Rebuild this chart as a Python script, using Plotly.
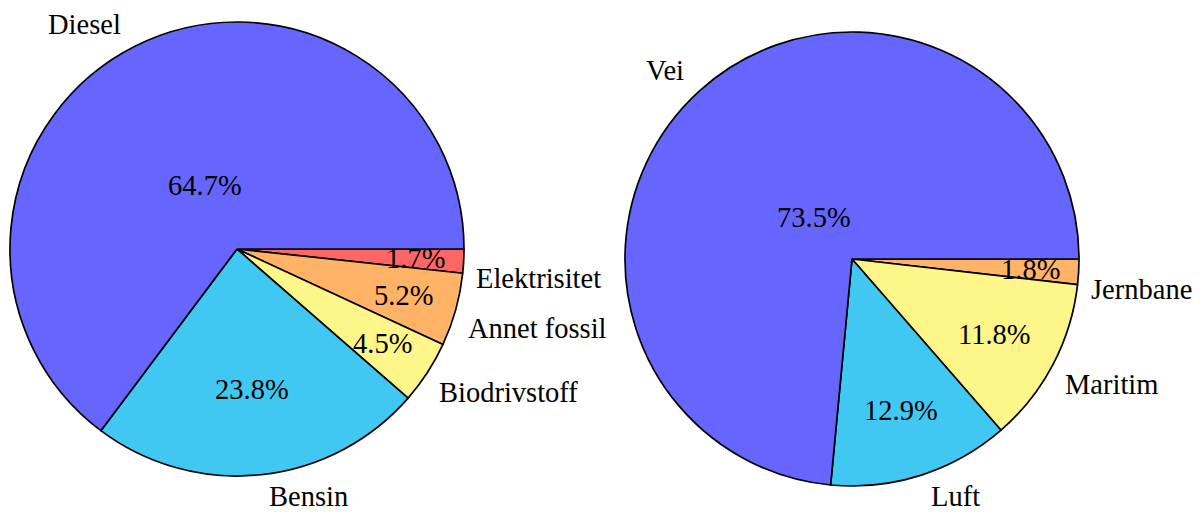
import math
import plotly.graph_objects as go

# Energibruk i transport, fordelt på energibærer og på sektor
energy_labels = ["Diesel", "Bensin", "Biodrivstoff", "Annet fossil", "Elektrisitet"]
energy_values = [64.7, 23.8, 4.5, 5.2, 1.7]
sector_labels = ["Vei", "Luft", "Maritim", "Jernbane"]
sector_values = [73.5, 12.9, 11.8, 1.8]

energy_colors = ["#6666ff", "#40c8f2", "#fff68a", "#ffb366", "#ff6666"]
sector_colors = ["#6666ff", "#40c8f2", "#fff68a", "#ffb366"]

# the page body has an 8px margin, so the figure is made that much smaller
OFF = 8
W, H = 1201 - OFF, 512 - OFF
R = 227
FONT = "Liberation Serif"
FSIZE = 28.5


def px(x):
    return (x - OFF) / W


def py(y):
    return 1 - (y - OFF) / H


def pie_with_labels(fig, labels, values, colors, cx, cy):
    # slices run counterclockwise from 3 o'clock; plotly does this as
    # clockwise from 3 o'clock with the order reversed
    fig.add_trace(go.Pie(
        labels=labels[::-1], values=values[::-1], sort=False,
        direction="clockwise", rotation=90,
        marker=dict(colors=colors[::-1], line=dict(color="black", width=1.7)),
        textinfo="none", hoverinfo="label+percent",
        domain=dict(x=[px(cx - R), px(cx + R)], y=[py(cy + R), py(cy - R)]),
    ))
    total = sum(values)
    cum = 0.0
    for lab, v in zip(labels, values):
        a = math.radians((cum + v / 2) / total * 360)
        cum += v
        c, s = math.cos(a), math.sin(a)
        # label outside the pie
        ro = R * 1.02
        fig.add_annotation(
            x=px(cx + ro * c), y=py(cy - ro * s),
            xref="paper", yref="paper", text=lab, showarrow=False,
            xanchor="left" if c >= 0 else "right",
            yanchor="bottom" if s >= 0 else "top",
            xshift=6 if c >= 0 else -10,
            font=dict(family=FONT, size=FSIZE, color="black"))
        # percentage inside the slice
        ri = R * (0.8 - 0.0075 * v)
        fig.add_annotation(
            x=px(cx + ri * c), y=py(cy - ri * s),
            xref="paper", yref="paper", text=f"{v}%", showarrow=False,
            xanchor="center", yanchor="middle",
            font=dict(family=FONT, size=FSIZE, color="black"))


fig = go.Figure()
pie_with_labels(fig, energy_labels, energy_values, energy_colors, 237, 249)
pie_with_labels(fig, sector_labels, sector_values, sector_colors, 852, 259)

fig.update_layout(
    width=W, height=H,
    margin=dict(l=0, r=0, t=0, b=0),
    paper_bgcolor="white", plot_bgcolor="white",
    showlegend=False,
    font=dict(family=FONT, size=FSIZE, color="black"),
)

fig.write_html("out.html")
